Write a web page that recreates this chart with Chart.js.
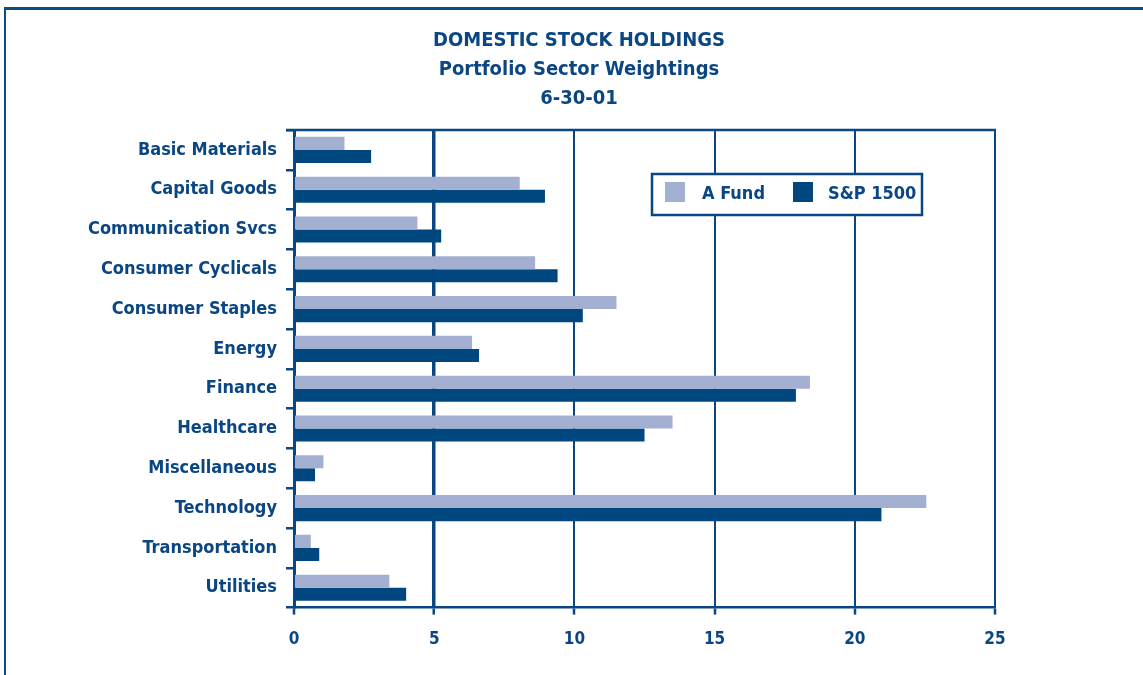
<!DOCTYPE html>
<html><head><meta charset="utf-8">
<script src="https://cdn.jsdelivr.net/npm/chart.js@4"></script>
<style>
html,body{margin:0;padding:0;background:#fff;width:1143px;height:675px;overflow:hidden}
#frame{position:absolute;left:4px;top:7px;right:0;bottom:0;border-top:3px solid #0d4a86;border-left:2px solid #0d4a86}
#wrap{position:absolute;left:0;top:0;width:1143px;height:675px}
</style></head><body>
<div id="frame"></div>
<div id="wrap"><canvas id="c" width="1143" height="675"></canvas></div>
<script>
const categories = ['Basic Materials','Capital Goods','Communication Svcs','Consumer Cyclicals','Consumer Staples','Energy','Finance','Healthcare','Miscellaneous','Technology','Transportation','Utilities'];
const aFund  = [1.8, 8.05, 4.4, 8.6, 11.5, 6.35, 18.4, 13.5, 1.05, 22.55, 0.6, 3.4];
const sp1500 = [2.75, 8.95, 5.25, 9.4, 10.3, 6.6, 17.9, 12.5, 0.75, 20.95, 0.9, 4.0];
const xTickValues = [0, 5, 10, 15, 20, 25];
const titleLines = ['DOMESTIC STOCK HOLDINGS', 'Portfolio Sector Weightings', '6-30-01'];
const seriesNames = ['A Fund', 'S&P 1500'];

const NAVY = '#0a4683';
const DARK = '#00467f';
const LIGHT = '#a2afd0';
const FONT = '"DejaVu Sans Condensed", "DejaVu Sans", sans-serif';

const framePlugin = {
  id: 'framePlugin',
  afterLayout(chart) {
    // center the title block on the page area like the reference
    if (chart.titleBlock) { chart.titleBlock.left = 0; chart.titleBlock.right = 1158; }
  },
  afterDraw(chart) {
    const {ctx, chartArea: a} = chart;
    ctx.save();
    ctx.strokeStyle = NAVY;
    ctx.lineWidth = 2.5;
    ctx.beginPath();
    ctx.moveTo(a.left - 8, a.top);
    ctx.lineTo(a.right + 1, a.top);
    ctx.stroke();
    // legend box
    const lx = a.left + 358, ly = a.top + 44, lw = 270, lh = 41;
    ctx.fillStyle = '#fff';
    ctx.fillRect(lx, ly, lw, lh);
    ctx.lineWidth = 2.5;
    ctx.strokeRect(lx, ly, lw, lh);
    const ds = chart.data.datasets;
    const offs = [[13, 50], [141, 176]];
    ctx.font = 'bold 18px ' + FONT;
    ctx.textBaseline = 'middle';
    ctx.textAlign = 'left';
    ds.forEach((d, i) => {
      ctx.fillStyle = d.backgroundColor;
      ctx.fillRect(lx + offs[i][0], ly + 8, 20, 20);
      ctx.fillStyle = NAVY;
      ctx.fillText(d.label, lx + offs[i][1], ly + 20);
    });
    ctx.restore();
  }
};

new Chart(document.getElementById('c'), {
  type: 'bar',
  data: {
    labels: categories,
    datasets: [
      {label: seriesNames[0], data: aFund, backgroundColor: LIGHT, borderWidth: 0},
      {label: seriesNames[1], data: sp1500, backgroundColor: DARK, borderWidth: 0}
    ]
  },
  options: {
    indexAxis: 'y',
    responsive: false,
    animation: false,
    devicePixelRatio: 1,
    layout: {padding: {left: 10, right: 148, top: 26, bottom: 10}},
    datasets: {bar: {categoryPercentage: 0.655, barPercentage: 1.0}},
    plugins: {
      legend: {display: false},
      tooltip: {enabled: false},
      title: {
        display: true,
        text: titleLines,
        color: NAVY,
        font: {family: FONT, size: 20, weight: 'bold', lineHeight: 1.45},
        padding: {top: 0, bottom: 17}
      }
    },
    scales: {
      x: {
        min: 0, max: 25,
        afterBuildTicks(scale) { scale.ticks = xTickValues.map(v => ({value: v})); },
        ticks: {color: NAVY, font: {family: FONT, size: 17, weight: 'bold'}, padding: 15},
        grid: {
          color: NAVY,
          lineWidth: (c) => (c.tick && c.tick.value === 5) ? 3.5 : 2,
          tickLength: 7,
          tickWidth: 2.5
        },
        border: {display: true, color: NAVY, width: 2.5}
      },
      y: {
        offset: true,
        afterFit(scale) { scale.width = 284; },
        ticks: {color: NAVY, font: {family: FONT, size: 18, weight: 'bold'}, padding: 9},
        grid: {offset: true, drawOnChartArea: false, color: NAVY, tickLength: 8, lineWidth: 2.5},
        border: {display: true, color: NAVY, width: 3}
      }
    }
  },
  plugins: [framePlugin]
});
</script>
</body></html>
